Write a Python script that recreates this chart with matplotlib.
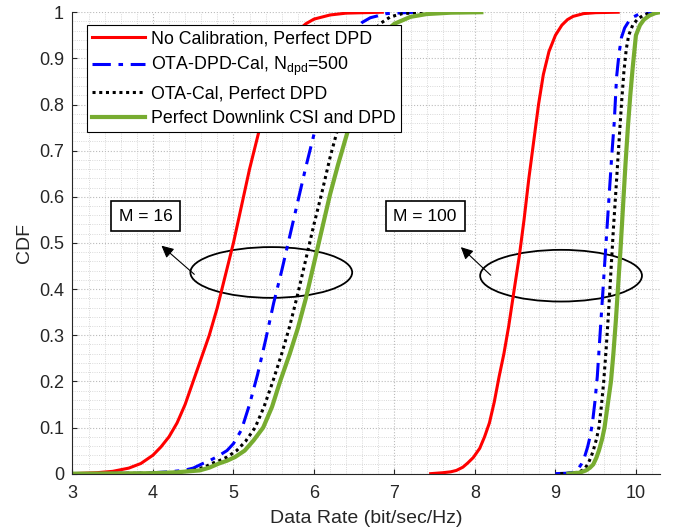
import matplotlib.pyplot as plt
from matplotlib.patches import Ellipse
from matplotlib.ticker import MultipleLocator

plt.rcParams['font.family'] = ['Liberation Sans', 'DejaVu Sans']
plt.rcParams['mathtext.fontset'] = 'custom'
plt.rcParams['mathtext.rm'] = 'Liberation Sans'

# data rates and CDF levels, M = 16
red16_x = [3.0, 3.3, 3.5, 3.7, 3.85, 4.0, 4.1, 4.2, 4.3, 4.4, 4.5, 4.6, 4.7, 4.8, 4.9, 5.0,
           5.1, 5.2, 5.3, 5.4, 5.5, 5.6, 5.7, 5.8, 5.9, 6.0, 6.2, 6.4, 6.85]
red16_y = [0, 0.002, 0.005, 0.012, 0.022, 0.04, 0.058, 0.08, 0.11, 0.15, 0.2, 0.25, 0.3, 0.36, 0.43, 0.5,
           0.58, 0.66, 0.73, 0.8, 0.855, 0.9, 0.935, 0.96, 0.975, 0.985, 0.994, 0.998, 1.0]
blue16_x = [3.0, 3.8, 4.0, 4.2, 4.38, 4.5, 4.62, 4.7, 4.79, 4.92, 5.0, 5.1, 5.2, 5.3, 5.4, 5.5,
            5.6, 5.7, 5.8, 5.9, 6.0, 6.1, 6.2, 6.3, 6.4, 6.5, 6.6, 6.7, 6.9, 7.25]
blue16_y = [0, 0.001, 0.002, 0.004, 0.007, 0.012, 0.022, 0.028, 0.036, 0.05, 0.065, 0.095, 0.15, 0.215, 0.29, 0.37,
            0.44, 0.515, 0.59, 0.665, 0.735, 0.8, 0.85, 0.895, 0.93, 0.96, 0.978, 0.988, 0.997, 1.0]
black16_x = [3.0, 4.0, 4.3, 4.5, 4.65, 4.73, 4.85, 4.92, 5.04, 5.15, 5.27, 5.38, 5.49, 5.6, 5.7, 5.8,
             5.9, 6.0, 6.1, 6.2, 6.3, 6.4, 6.5, 6.6, 6.7, 6.82, 6.95, 7.1, 7.4]
black16_y = [0, 0.001, 0.003, 0.007, 0.015, 0.022, 0.03, 0.036, 0.05, 0.07, 0.1, 0.145, 0.2, 0.26, 0.32, 0.39,
             0.465, 0.54, 0.61, 0.685, 0.75, 0.815, 0.87, 0.915, 0.95, 0.975, 0.99, 0.997, 1.0]
green16_x = [3.0, 4.0, 4.3, 4.58, 4.7, 4.82, 4.92, 5.02, 5.14, 5.25, 5.37, 5.48, 5.58, 5.7, 5.8, 5.9,
             6.0, 6.1, 6.2, 6.3, 6.4, 6.5, 6.6, 6.7, 6.8, 6.9, 7.0, 7.2, 7.4, 7.7, 8.08]
green16_y = [0, 0.001, 0.003, 0.007, 0.013, 0.022, 0.028, 0.036, 0.05, 0.072, 0.1, 0.145, 0.2, 0.26, 0.315, 0.38,
             0.455, 0.53, 0.605, 0.67, 0.73, 0.79, 0.845, 0.895, 0.935, 0.96, 0.975, 0.99, 0.996, 0.999, 1.0]

# M = 100
red100_x = [7.45, 7.6, 7.7, 7.77, 7.85, 7.91, 7.98, 8.06, 8.12, 8.18, 8.24, 8.3, 8.36, 8.42, 8.48,
            8.55, 8.61, 8.67, 8.73, 8.79, 8.85, 8.92, 9.0, 9.08, 9.15, 9.22, 9.35, 9.5, 9.78]
red100_y = [0, 0.002, 0.004, 0.007, 0.014, 0.023, 0.035, 0.055, 0.08, 0.11, 0.155, 0.21, 0.26, 0.32, 0.39,
            0.47, 0.55, 0.64, 0.72, 0.8, 0.865, 0.915, 0.95, 0.972, 0.984, 0.991, 0.997, 0.999, 1.0]
blue100_x = [9.0, 9.15, 9.22, 9.27, 9.32, 9.36, 9.4, 9.43, 9.46, 9.49, 9.52, 9.55, 9.58, 9.61, 9.64,
             9.67, 9.7, 9.73, 9.76, 9.79, 9.82, 9.86, 9.91, 9.96, 10.05, 10.24]
blue100_y = [0, 0.001, 0.003, 0.007, 0.02, 0.035, 0.058, 0.08, 0.11, 0.155, 0.21, 0.29, 0.37, 0.45, 0.53,
             0.61, 0.69, 0.76, 0.86, 0.91, 0.945, 0.966, 0.98, 0.989, 0.997, 1.0]
black100_x = [9.06, 9.2, 9.3, 9.36, 9.4, 9.44, 9.47, 9.51, 9.54, 9.57, 9.6, 9.63, 9.66, 9.69, 9.72,
              9.75, 9.79, 9.82, 9.85, 9.88, 9.91, 9.96, 10.02, 10.09, 10.17, 10.26]
black100_y = [0, 0.001, 0.004, 0.01, 0.02, 0.035, 0.05, 0.075, 0.1, 0.145, 0.2, 0.27, 0.35, 0.44, 0.53,
              0.61, 0.72, 0.8, 0.87, 0.92, 0.95, 0.972, 0.985, 0.993, 0.998, 1.0]
green100_x = [9.16, 9.3, 9.38, 9.43, 9.47, 9.51, 9.54, 9.58, 9.61, 9.65, 9.69, 9.72, 9.75, 9.78, 9.81,
              9.84, 9.87, 9.9, 9.93, 9.96, 10.0, 10.05, 10.1, 10.17, 10.24, 10.3]
green100_y = [0, 0.002, 0.007, 0.013, 0.02, 0.035, 0.05, 0.075, 0.1, 0.15, 0.2, 0.26, 0.33, 0.41, 0.49,
              0.58, 0.67, 0.75, 0.82, 0.88, 0.95, 0.972, 0.984, 0.993, 0.998, 1.0]

labels = ['No Calibration, Perfect DPD',
          r'OTA-DPD-Cal, N$_{\rm dpd}$=500',
          'OTA-Cal, Perfect DPD',
          'Perfect Downlink CSI and DPD']
green = '#77AC30'
dashdot = (0, (6, 2.5, 1.5, 2.5))
dotted = (0, (1, 1.2))

fig = plt.figure(figsize=(6.77, 5.31), dpi=100)
ax = fig.add_axes([0.107, 0.108, 0.868, 0.869])

ax.plot(red16_x, red16_y, color='red', lw=2.2, label=labels[0])
ax.plot(blue16_x, blue16_y, color='blue', lw=2.2, linestyle=dashdot, label=labels[1])
ax.plot(black16_x, black16_y, color='black', lw=2.2, linestyle=dotted, label=labels[2])
ax.plot(green16_x, green16_y, color=green, lw=3.0, label=labels[3])
ax.plot(red100_x, red100_y, color='red', lw=2.2)
ax.plot(blue100_x, blue100_y, color='blue', lw=2.2, linestyle=dashdot)
ax.plot(black100_x, black100_y, color='black', lw=2.2, linestyle=dotted)
ax.plot(green100_x, green100_y, color=green, lw=3.0)

# ellipses, arrows and boxed labels
ax.add_patch(Ellipse((5.47, 0.436), 2.01, 0.11, fill=False, lw=1.3, color='black'))
ax.add_patch(Ellipse((9.07, 0.429), 2.01, 0.112, fill=False, lw=1.3, color='black'))
ax.annotate('', xy=(4.08, 0.498), xytext=(4.54, 0.428),
            arrowprops=dict(arrowstyle='-|>', lw=0.8, color='black', mutation_scale=18))
ax.annotate('', xy=(7.80, 0.495), xytext=(8.22, 0.426),
            arrowprops=dict(arrowstyle='-|>', lw=0.8, color='black', mutation_scale=18))
box = dict(boxstyle='square,pad=0.45', facecolor='white', edgecolor='black', lw=1.2)
ax.text(3.91, 0.558, 'M = 16', fontsize=12.5, ha='center', va='center', bbox=box)
ax.text(7.38, 0.558, 'M = 100', fontsize=12.5, ha='center', va='center', bbox=box)

ax.set_xlim(3, 10.3)
ax.set_ylim(0, 1)
ax.set_xticks(range(3, 11))
ax.set_yticks([i / 10 for i in range(11)])
ax.set_yticklabels(['0', '0.1', '0.2', '0.3', '0.4', '0.5', '0.6', '0.7', '0.8', '0.9', '1'])
ax.xaxis.set_minor_locator(MultipleLocator(0.2))
ax.yaxis.set_minor_locator(MultipleLocator(0.02))
ax.tick_params(which='both', direction='in', labelsize=13, colors='#262626')
ax.tick_params(axis='x', pad=8)
ax.tick_params(axis='y', pad=6)
ax.tick_params(which='minor', length=0)
ax.grid(which='major', color='#bbbbbb', linestyle=':', linewidth=0.8)
ax.grid(which='minor', color='#cccccc', linestyle=':', linewidth=0.6)
ax.set_axisbelow(True)
for s in ['top', 'right']:
    ax.spines[s].set_visible(False)
for s in ['left', 'bottom']:
    ax.spines[s].set_color('#262626')

ax.set_xlabel('Data Rate (bit/sec/Hz)', fontsize=14, color='#262626', labelpad=6)
ax.set_ylabel('CDF', fontsize=14, color='#262626', labelpad=4)

leg = ax.legend(loc='upper left', bbox_to_anchor=(0.024, 0.972), fontsize=12.8,
                fancybox=False, framealpha=1, edgecolor='black', borderpad=0.3,
                handlelength=3.0, handletextpad=0.3, labelspacing=0.42, borderaxespad=0)
leg.get_frame().set_linewidth(0.8)

fig.savefig('out.png', dpi=100)
